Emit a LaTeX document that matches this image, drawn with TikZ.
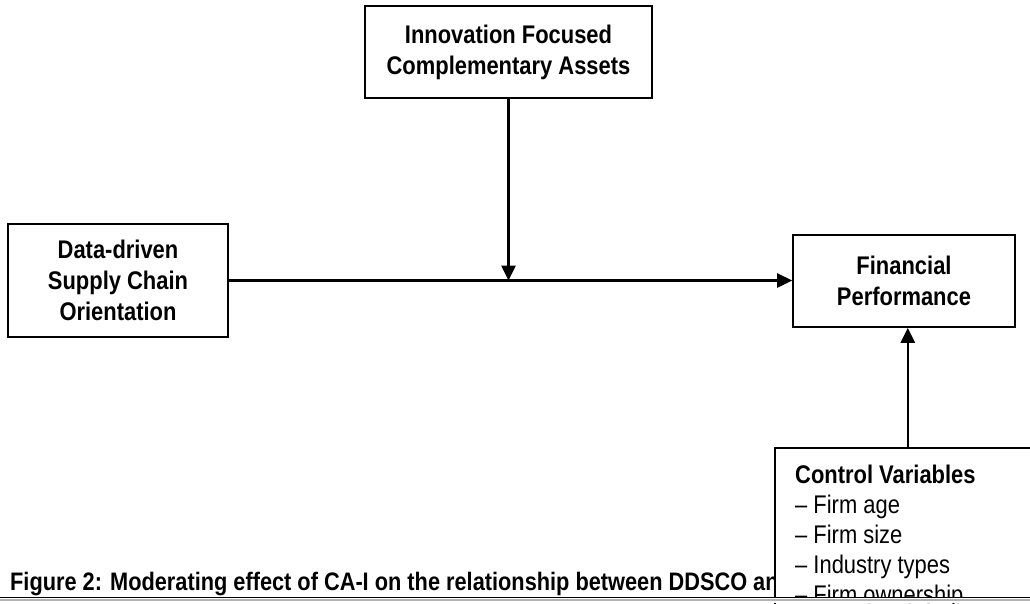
\documentclass[tikz,border=0pt]{standalone}
\usepackage{fontspec}
\setmainfont{Liberation Sans}[FakeStretch=0.86]
\usetikzlibrary{arrows.meta}
\begin{document}
\begin{tikzpicture}[x=1pt,y=-1pt,
  box/.style={draw=black,line width=1.6pt,fill=white,inner sep=0pt,align=center,
    font=\fontsize{25.5}{31}\selectfont\bfseries},
  arr/.style={line width=2.6pt,-{Triangle[length=15pt,width=14pt]}}]
\path[use as bounding box] (0,0) rectangle (1030,603);
\clip (0,0) rectangle (1030,603);
\fill[white] (0,0) rectangle (1030,603);
% caption (partly hidden behind the control box)
\begin{scope}
\clip (0,560) rectangle (774,603);
\node[anchor=base west,inner sep=0pt,font=\fontsize{25.3}{26}\selectfont\bfseries] (cap) at (10,590)
  {Figure 2: Moderating effect of CA-I on the relationship between DDSCO and};
\end{scope}
% boxes
\node[box,minimum width=287pt,minimum height=92pt] (top) at (508.5,52) {Innovation Focused\\Complementary Assets};
\node[box,minimum width=220pt,minimum height=113pt] (left) at (118,280.5) {Data-driven\\Supply Chain\\Orientation};
\node[box,minimum width=222pt,minimum height=92pt] (right) at (904,281) {Financial\\Performance};
\node[box,anchor=north west,minimum width=266pt,minimum height=200pt] (ctrl) at (774,447) {};
\node[anchor=north west,inner sep=0pt,align=left,font=\fontsize{25.5}{30}\selectfont] (ctrltext) at (795,465)
  {\textbf{Control Variables}\\– Firm age\\– Firm size\\– Industry types\\– Firm ownership};
% connectors
\coordinate (m) at (top.south |- left.east);
\draw[arr] (left.east) -- (left.east -| right.west);
\draw[arr] (top.south) -- (m);
\draw[arr] (ctrl.north) -- (ctrl.north |- right.south);
% bottom rule
\fill[white] (0,597) rectangle (1030,603);
\draw[line width=1.8pt,black] (0,597.5) -- (1030,597.5);
\draw[line width=1.5pt,gray!60] (0,600) -- (1030,600);
\end{tikzpicture}
\end{document}
